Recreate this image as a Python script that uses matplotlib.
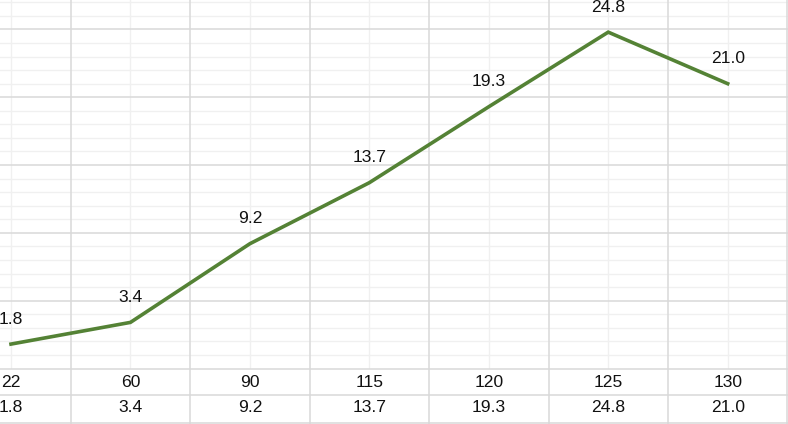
import matplotlib.pyplot as plt
import numpy as np

categories = ["22", "60", "90", "115", "120", "125", "130"]
values = [1.8, 3.4, 9.2, 13.7, 19.3, 24.8, 21.0]

plt.rcParams["font.family"] = ["Liberation Sans", "DejaVu Sans"]

W, H = 788, 424
fig = plt.figure(figsize=(W / 100, H / 100), dpi=100)

major_c = "#d9d9d9"
minor_c = "#f0f0f0"
line_c = "#548235"
txt_c = "#111111"
fs = 12.6

# chart area (cropped), bottom of plot = value 0
bottom_px = 55.5
ax = fig.add_axes([0, bottom_px / H, 1, 1 - bottom_px / H])
x = np.arange(len(categories))
xlim = (-0.092, 6.505)
ax.set_xlim(*xlim)
ax.set_ylim(0, 27.17)

for v in range(0, 28):
    if v % 5 == 0:
        ax.axhline(v, color=major_c, lw=1.1, zorder=1)
    else:
        ax.axhline(v, color=minor_c, lw=1.0, zorder=0)
for xi in x:
    ax.axvline(xi, color=minor_c, lw=1.0, zorder=0)
for b in np.arange(-0.5, len(categories)):
    ax.axvline(b, color=major_c, lw=1.1, zorder=1)

ax.plot(x, values, color=line_c, lw=2.6, zorder=3, solid_joinstyle="miter")
for xi, v in zip(x, values):
    ax.annotate(f"{v:.1f}", (xi, v), xytext=(0, 18), textcoords="offset points",
                ha="center", va="center", fontsize=fs, color=txt_c)
ax.axis("off")

# data table below the chart
tax = fig.add_axes([0, 0, 1, bottom_px / H])
tax.set_xlim(*xlim)
tax.set_ylim(0, bottom_px)
for yy in (bottom_px - 0.5, 29, 1.5):
    tax.axhline(yy, color=major_c, lw=1.1)
for b in np.arange(-0.5, len(categories)):
    tax.axvline(b, color=major_c, lw=1.1)
for xi, c, v in zip(x, categories, values):
    tax.text(xi, 41.3, c, ha="center", va="center", fontsize=fs, color=txt_c)
    tax.text(xi, 16, f"{v:.1f}", ha="center", va="center", fontsize=fs, color=txt_c)
tax.axis("off")

fig.savefig("out.png", dpi=100)
